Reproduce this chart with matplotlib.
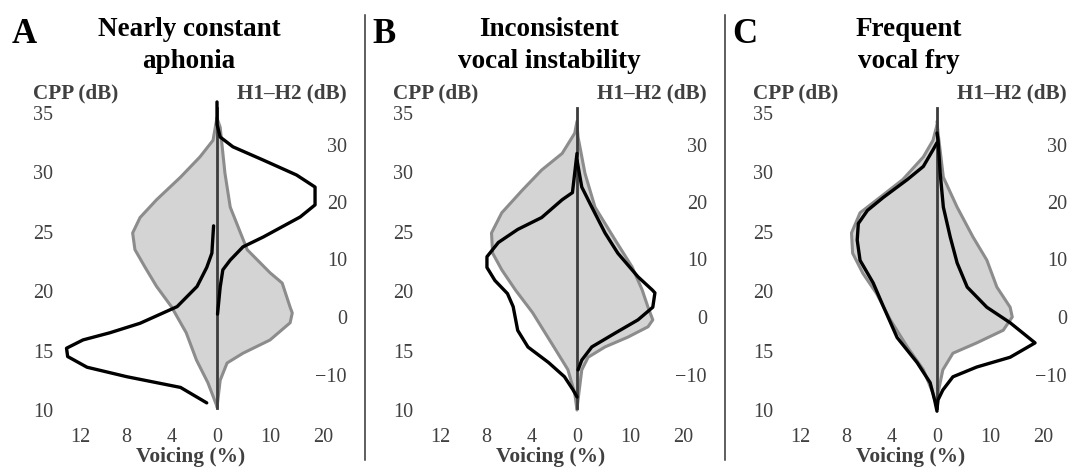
import numpy as np
import matplotlib
matplotlib.use("Agg")
import matplotlib.pyplot as plt
import matplotlib.transforms as mtransforms
from matplotlib.lines import Line2D

plt.rcParams["font.family"] = ["Liberation Serif", "DejaVu Serif"]

# Panel titles
letters = ["A", "B", "C"]
titles = ["Nearly constant\naphonia", "Inconsistent\nvocal instability", "Frequent\nvocal fry"]

# Axis ticks
cpp_ticks = [10, 15, 20, 25, 30, 35]
h12_ticks = [-10, 0, 10, 20, 30]
h12_tick_labels = ["\u221210", "0", "10", "20", "30"]
cpp_voicing_ticks = [12, 8, 4, 0]
h12_voicing_ticks = [10, 20]

# --- A: nearly constant aphonia ---
a_ref_cpp_db = [34.6, 32.7, 31.3, 29.6, 27.7, 26.2, 24.9, 23.5, 22.0, 20.4, 18.7, 16.5, 14.2, 12.3, 10.3]
a_ref_cpp_v = [0, 0.35, 1.5, 3.2, 5.3, 6.75, 7.4, 7.2, 6.3, 5.3, 4.0, 2.7, 1.8, 0.8, 0]
a_ref_h12_db = [34.6, 33.0, 25.0, 19.1, 11.7, 7.7, 5.9, 1.7, 0.7, -1.0, -4.0, -6.3, -8.0, -11.0, -15.7]
a_ref_h12_v = [0, 0.6, 1.5, 2.5, 5.7, 10.0, 12.3, 13.8, 14.2, 13.8, 10.0, 4.9, 1.9, 0.6, 0]
a_pat_cpp_db = [25.5, 23.2, 22.0, 20.4, 18.7, 17.3, 16.5, 15.9, 15.2, 14.5, 13.6, 12.8, 11.9, 10.6]
a_pat_cpp_v = [0.3, 0.45, 0.9, 1.75, 3.5, 6.75, 9.4, 11.75, 13.2, 13.1, 11.4, 7.9, 3.2, 0.9]
a_pat_h12_db = [37.4, 33.5, 31.3, 29.6, 27.3, 24.7, 22.6, 19.5, 17.4, 13.9, 12.2, 9.9, 8.2, 5.2, 0.5]
a_pat_h12_v = [0, 0, 0.6, 3.0, 8.7, 15.0, 18.5, 18.5, 15.7, 8.7, 4.9, 2.5, 1.1, 0.6, 0.1]

# --- B: inconsistent vocal instability ---
b_ref_cpp_db = [34.3, 33.3, 31.6, 30.2, 28.5, 26.6, 24.9, 23.2, 21.8, 20.1, 18.2, 16.5, 14.8, 13.4, 11.4, 10.0]
b_ref_cpp_v = [0, 0.2, 1.3, 3.1, 4.8, 6.6, 7.5, 7.4, 6.6, 5.4, 3.9, 2.8, 1.7, 0.8, 0.2, 0]
b_ref_h12_db = [33.5, 31.3, 25.0, 19.1, 13.4, 8.7, 4.7, 1.7, -0.5, -1.7, -3.5, -5.2, -7.0, -9.2, -14.4, -16.0]
b_ref_h12_v = [0, 0.2, 1.5, 3.4, 7.2, 10.4, 12.3, 13.4, 14.3, 13.4, 9.6, 5.3, 2.1, 0.9, 0.2, 0]
b_pat_cpp_db = [31.6, 28.3, 27.7, 26.2, 25.2, 24.1, 22.9, 22.0, 20.9, 19.8, 18.7, 16.7, 15.3, 14.0, 12.8, 11.7, 11.1]
b_pat_cpp_v = [0, 0.4, 1.3, 3.1, 5.2, 6.9, 7.9, 7.9, 7.2, 6.1, 5.6, 5.2, 4.3, 2.5, 1.1, 0.35, 0]
b_pat_h12_db = [27.3, 22.6, 19.1, 14.6, 11.1, 7.0, 4.7, 4.2, 1.7, -0.5, -2.8, -5.2, -7.5, -9.2]
b_pat_h12_v = [0, 0.9, 2.8, 5.3, 7.7, 11.5, 14.2, 14.7, 14.3, 11.5, 7.2, 2.8, 0.9, 0.2]

# --- C: frequent vocal fry ---
c_ref_cpp_db = [34.0, 32.7, 31.3, 29.4, 27.9, 26.6, 24.9, 23.2, 21.5, 19.8, 17.6, 15.3, 13.4, 11.4, 10.2]
c_ref_cpp_v = [0, 0.35, 1.2, 3.0, 5.0, 6.75, 7.5, 7.4, 6.5, 5.3, 4.1, 2.6, 1.2, 0.35, 0]
c_ref_h12_db = [34.0, 32.0, 24.3, 19.1, 13.9, 9.9, 5.2, 1.7, 0.0, -2.3, -4.5, -6.3, -9.2, -13.2, -15.5]
c_ref_h12_v = [0, 0.2, 1.2, 3.8, 6.8, 9.4, 11.3, 13.8, 14.2, 12.5, 7.5, 3.0, 1.1, 0.2, 0]
c_pat_cpp_db = [32.5, 31.9, 30.5, 29.4, 27.9, 26.8, 25.7, 24.3, 22.6, 20.7, 18.7, 16.1, 14.0, 12.3, 10.8, 9.9]
c_pat_cpp_v = [0, 0.35, 1.2, 2.6, 4.7, 6.1, 6.9, 7.0, 6.75, 5.6, 4.7, 3.5, 1.75, 0.6, 0.2, 0]
c_pat_h12_db = [32.0, 30.8, 25.0, 19.1, 13.9, 9.4, 5.2, 1.7, -1.0, -4.5, -7.0, -8.7, -10.4, -12.7, -14.4, -16.0]
c_pat_h12_v = [0, 0.2, 0.6, 1.2, 2.5, 3.8, 5.7, 9.4, 13.8, 18.5, 13.8, 7.5, 3.0, 1.1, 0.2, 0]

panels = [
    (a_ref_cpp_db, a_ref_cpp_v, a_ref_h12_db, a_ref_h12_v, a_pat_cpp_db, a_pat_cpp_v, a_pat_h12_db, a_pat_h12_v),
    (b_ref_cpp_db, b_ref_cpp_v, b_ref_h12_db, b_ref_h12_v, b_pat_cpp_db, b_pat_cpp_v, b_pat_h12_db, b_pat_h12_v),
    (c_ref_cpp_db, c_ref_cpp_v, c_ref_h12_db, c_ref_h12_v, c_pat_cpp_db, c_pat_cpp_v, c_pat_h12_db, c_pat_h12_v),
]

# Layout (pixels)
W, H = 1070, 468
centers = [217, 577, 937]
PX_CPP_V = 11.4   # px per % on CPP side
PX_H12_V = 5.3    # px per % on H1-H2 side
R = PX_H12_V / PX_CPP_V
CPP_LIM = (10 - 5 / 11.88, 10 + 315 / 11.88)
H12_LIM = (-98 / 5.75, 222 / 5.75)
CENTER_CPP = (10.2, 35.4)

FILL = "#d4d4d4"
EDGE = "#8c8c8c"
MID = "#3c3c3c"
TXT = "#404040"

fig = plt.figure(figsize=(W / 100, H / 100), dpi=100)

for i, c in enumerate(centers):
    ref_cpp_db, ref_cpp_v, ref_h_db, ref_h_v, pat_cpp_db, pat_cpp_v, pat_h_db, pat_h_v = panels[i]

    ax = fig.add_axes([(c - 147) / W, (H - 415) / H, 260 / W, 320 / H])
    ax.set_xlim(-147 / PX_CPP_V, 113 / PX_CPP_V)
    ax.set_ylim(*CPP_LIM)
    ax2 = ax.twinx()
    ax2.set_ylim(*H12_LIM)
    ax2.set_autoscale_on(False)
    ax.set_autoscale_on(False)

    # voicing runs leftwards for CPP, rightwards (compressed) for H1-H2
    left_tf = mtransforms.Affine2D().scale(-1, 1) + ax.transData
    right_tf = mtransforms.Affine2D().scale(R, 1) + ax2.transData

    line_kw = dict(solid_joinstyle="round", solid_capstyle="round", clip_on=False)
    ax2.fill(ref_cpp_v, ref_cpp_db, color=FILL, lw=0, transform=left_tf, zorder=1)
    ax2.fill(ref_h_v, ref_h_db, color=FILL, lw=0, transform=right_tf, zorder=1)
    ax2.plot(ref_cpp_v, ref_cpp_db, color=EDGE, lw=2.2, transform=left_tf, zorder=2, **line_kw)
    ax2.plot(ref_h_v, ref_h_db, color=EDGE, lw=2.2, transform=right_tf, zorder=2, **line_kw)
    ax2.plot([0, 0], CENTER_CPP, color=MID, lw=2.0, transform=left_tf, zorder=3)
    ax2.plot(pat_cpp_v, pat_cpp_db, color="black", lw=2.4, transform=left_tf, zorder=4, **line_kw)
    ax2.plot(pat_h_v, pat_h_db, color="black", lw=2.4, transform=right_tf, zorder=4, **line_kw)

    # ticks
    ax.set_yticks(cpp_ticks)
    ax.set_yticklabels([str(t) for t in cpp_ticks])
    ax2.set_yticks(h12_ticks)
    ax2.set_yticklabels(h12_tick_labels)
    for lab in ax2.get_yticklabels():
        lab.set_horizontalalignment("right")
    xt = [-v for v in cpp_voicing_ticks] + [v * R for v in h12_voicing_ticks]
    ax.set_xticks(xt)
    ax.set_xticklabels([str(v) for v in cpp_voicing_ticks + h12_voicing_ticks])
    ax.tick_params(axis="y", length=0, pad=12.2, labelsize=14.5, labelcolor=TXT)
    ax2.tick_params(axis="y", length=0, pad=12.2, labelsize=14.5, labelcolor=TXT)
    ax.tick_params(axis="x", length=0, pad=9.5, labelsize=14.5, labelcolor=TXT)
    for a in (ax, ax2):
        for s in a.spines.values():
            s.set_visible(False)

    # text
    fig.text((c - 205) / W, (H - 43) / H, letters[i], ha="left", va="baseline",
             fontsize=25, fontweight="bold")
    fig.text((c - 28) / W, (H - 17) / H, titles[i], ha="center", va="top",
             fontsize=19.5, fontweight="bold", linespacing=1.36)
    fig.text((c - 184) / W, (H - 98) / H, "CPP (dB)", ha="left", va="baseline",
             fontsize=15.2, fontweight="bold", color=TXT)
    fig.text((c + 130) / W, (H - 98) / H, "H1\u2013H2 (dB)", ha="right", va="baseline",
             fontsize=15.2, fontweight="bold", color=TXT)
    fig.text((c - 26) / W, (H - 447) / H, "Voicing (%)", ha="center", va="top",
             fontsize=15.4, fontweight="bold", color=TXT)

# separators between panels
for xs in (365, 725):
    fig.add_artist(Line2D([xs / W, xs / W], [(H - 460) / H, (H - 15) / H],
                          color="#333333", lw=1.1))

fig.savefig("out.png", dpi=100, facecolor="white")
